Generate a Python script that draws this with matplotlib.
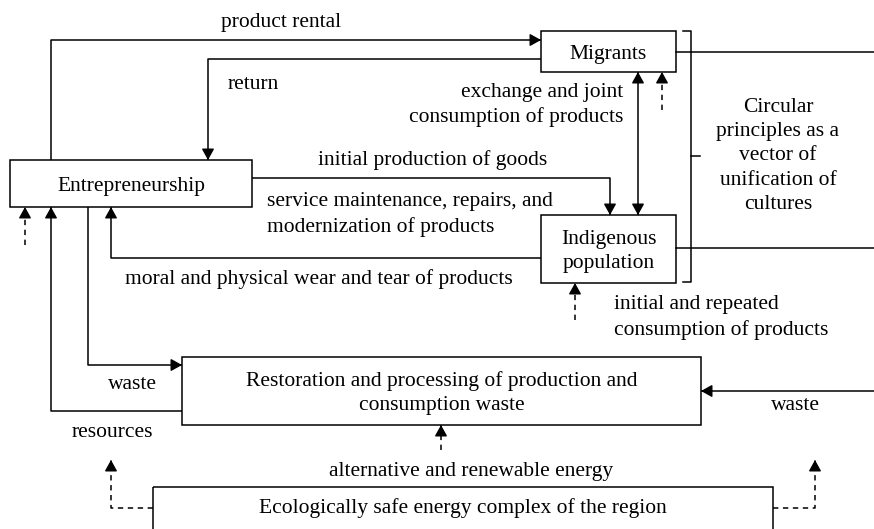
import matplotlib.pyplot as plt

plt.rcParams['font.family'] = ['Liberation Serif', 'DejaVu Serif']

# box labels and flow labels
box_names = ["Migrants", "Indigenous\npopulation", "Entrepreneurship",
             "Restoration and processing of production and\nconsumption waste",
             "Ecologically safe energy complex of the region"]
flow_labels = ["product rental", "return", "exchange and joint\nconsumption of products",
               "initial production of goods",
               "service maintenance, repairs, and\nmodernization of products",
               "moral and physical wear and tear of products",
               "initial and repeated\nconsumption of products",
               "waste", "resources", "alternative and renewable energy", "waste"]
side_label = "Circular\nprinciples as a\nvector of\nunification of\ncultures"

# layout in pixel units (x0, y0, x1, y1), y grows downward
boxes = [(541, 31, 676, 72), (541, 215, 676, 283), (10, 160, 252, 207),
         (182, 357, 701, 425), (153, 487, 773, 545)]
box_text_y = [51.5, 249, 183.5, 391, 506]

FS = 15.5
LS = 1.36
DY = 2.5  # text baseline nudge
fig = plt.figure(figsize=(8.74, 5.29), dpi=100)
ax = fig.add_axes([0, 0, 1, 1])
ax.set_xlim(0, 874)
ax.set_ylim(529, 0)
ax.axis('off')

for (x0, y0, x1, y1), ty, name in zip(boxes, box_text_y, box_names):
    ax.add_patch(plt.Rectangle((x0, y0), x1 - x0, y1 - y0, fill=False, lw=1.1, ec='black'))
    ax.text((x0 + x1) / 2, ty + DY, name, ha='center', va='center',
            fontsize=FS, linespacing=LS)


def flow(pts, dashed=False, both=False):
    xs = [p[0] for p in pts]
    ys = [p[1] for p in pts]
    ls = (0, (3.5, 3)) if dashed else '-'
    ax.plot(xs, ys, color='black', lw=1.1, linestyle=ls, solid_capstyle='butt')
    ends = [(pts[-2], pts[-1])]
    if both:
        ends.append((pts[1], pts[0]))
    for a, b in ends:
        dx = (b[0] - a[0])
        dy = (b[1] - a[1])
        n = max(abs(dx), abs(dy))
        start = (b[0] - dx / n * 10, b[1] - dy / n * 10)
        ax.annotate('', xy=b, xytext=start,
                    arrowprops=dict(arrowstyle='-|>,head_length=0.45,head_width=0.25',
                                    lw=1, color='black', shrinkA=0, shrinkB=0,
                                    mutation_scale=15))


# solid flows
flow([(51, 160), (51, 40), (541, 40)])
flow([(541, 59), (208, 59), (208, 160)])
flow([(252, 178), (610, 178), (610, 215)])
flow([(541, 258), (111, 258), (111, 207)])
flow([(88, 207), (88, 365), (182, 365)])
flow([(182, 411), (51, 411), (51, 207)])
flow([(638, 72), (638, 215)], both=True)
flow([(874, 391), (701, 391)])
ax.plot([676, 874], [52, 52], color='black', lw=1.1)
ax.plot([676, 874], [248, 248], color='black', lw=1.1)

# dashed flows
flow([(25, 245), (25, 207)], dashed=True)
flow([(662, 110), (662, 72)], dashed=True)
flow([(575, 320), (575, 283)], dashed=True)
flow([(441, 450), (441, 425)], dashed=True)
flow([(153, 508), (111, 508), (111, 460)], dashed=True)
flow([(773, 508), (815, 508), (815, 460)], dashed=True)

# bracket
ax.plot([683, 691, 691, 683], [31, 31, 282, 282], color='black', lw=1.1)
ax.plot([691, 700], [156, 156], color='black', lw=1.1)

# flow labels
label_pos = [(281, 20, 'center'), (228, 82, 'left'), (623, 102.5, 'right'),
             (318, 158, 'left'), (267, 212, 'left'), (125, 277, 'left'),
             (614, 315, 'left'), (132, 382, 'center'), (112, 430, 'center'),
             (471, 469, 'center'), (795, 403, 'center')]
for (x, y, ha), t in zip(label_pos, flow_labels):
    ax.text(x, y + DY, t, ha=ha, va='center', fontsize=FS, linespacing=LS, multialignment=ha)

ax.text(778, 153.5 + DY, side_label, ha='center', va='center', fontsize=FS, linespacing=LS)

fig.savefig('out.png', dpi=100)
